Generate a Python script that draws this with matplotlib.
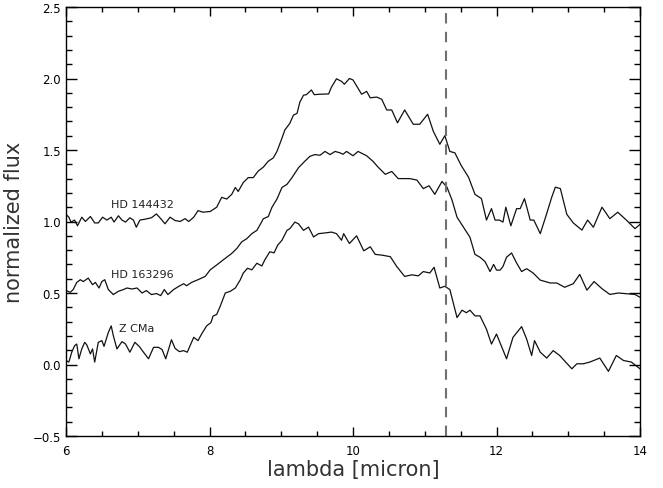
import matplotlib
matplotlib.use("Agg")
import matplotlib.pyplot as plt
from matplotlib.ticker import MultipleLocator

# HD 144432 (top)
x_top = [6.0, 6.04, 6.07, 6.12, 6.16, 6.22, 6.27, 6.34, 6.40, 6.45, 6.51, 6.57, 6.63, 6.67, 6.73, 6.78,
         6.83, 6.89, 6.94, 6.98, 7.03, 7.10, 7.19, 7.26, 7.32, 7.38, 7.45, 7.52, 7.59, 7.66, 7.71, 7.78,
         7.84, 7.91, 8.01, 8.10, 8.17, 8.24, 8.31, 8.36, 8.40, 8.47, 8.54, 8.61, 8.68, 8.75, 8.82, 8.89,
         8.94, 9.01, 9.05, 9.12, 9.17, 9.22, 9.26, 9.31, 9.35, 9.42, 9.46, 9.54, 9.66, 9.70, 9.77, 9.84,
         9.88, 9.95, 10.0, 10.12, 10.19, 10.24, 10.33, 10.40, 10.47, 10.54, 10.62, 10.72, 10.84, 10.93,
         11.04, 11.12, 11.21, 11.28, 11.35, 11.42, 11.51, 11.61, 11.70, 11.79, 11.86, 11.93, 11.98, 12.04,
         12.09, 12.13, 12.20, 12.28, 12.33, 12.39, 12.47, 12.52, 12.61, 12.69, 12.77, 12.82, 12.89, 12.98,
         13.07, 13.19, 13.27, 13.35, 13.47, 13.58, 13.69, 13.81, 13.93, 14.0]
y_top = [1.05, 1.03, 0.996, 1.01, 0.97, 1.03, 1.0, 1.035, 0.99, 0.99, 1.03, 1.01, 1.03, 0.996, 1.04, 1.01,
         0.996, 1.026, 1.01, 0.96, 1.01, 1.016, 1.026, 1.053, 1.02, 0.984, 1.03, 1.007, 1.0, 1.02, 1.0, 1.03,
         1.076, 1.065, 1.07, 1.10, 1.169, 1.157, 1.19, 1.238, 1.21, 1.272, 1.307, 1.307, 1.353, 1.38, 1.422, 1.445,
         1.49, 1.583, 1.64, 1.687, 1.744, 1.756, 1.836, 1.883, 1.887, 1.92, 1.887, 1.89, 1.892, 1.94, 1.998, 1.98,
         1.96, 2.0, 1.99, 1.89, 1.91, 1.865, 1.87, 1.855, 1.78, 1.78, 1.69, 1.78, 1.68, 1.68,
         1.75, 1.63, 1.54, 1.60, 1.49, 1.48, 1.39, 1.31, 1.19, 1.16, 1.01, 1.09, 1.01, 1.01,
         0.996, 1.10, 0.97, 1.09, 1.09, 1.16, 1.01, 1.01, 0.915, 1.04, 1.17, 1.24, 1.23, 1.05,
         0.99, 0.94, 1.01, 0.96, 1.10, 1.02, 1.065, 1.01, 0.95, 0.98]

# HD 163296 (middle)
x_mid = [6.0, 6.06, 6.10, 6.15, 6.20, 6.24, 6.31, 6.37, 6.41, 6.46, 6.50, 6.54, 6.59, 6.66, 6.73, 6.80,
         6.85, 6.92, 6.99, 7.06, 7.12, 7.19, 7.26, 7.32, 7.37, 7.42, 7.50, 7.57, 7.64, 7.68, 7.75, 7.84,
         7.94, 8.01, 8.10, 8.19, 8.31, 8.38, 8.45, 8.52, 8.59, 8.66, 8.70, 8.75, 8.82, 8.87, 8.94, 9.01,
         9.08, 9.15, 9.24, 9.33, 9.40, 9.47, 9.54, 9.61, 9.68, 9.75, 9.82, 9.86, 9.91, 10.0, 10.07, 10.19,
         10.28, 10.35, 10.45, 10.54, 10.63, 10.79, 10.89, 10.98, 11.06, 11.14, 11.24, 11.31, 11.38, 11.45,
         11.54, 11.63, 11.70, 11.77, 11.84, 11.91, 11.96, 12.0, 12.05, 12.09, 12.14, 12.21, 12.28, 12.35,
         12.42, 12.51, 12.61, 12.75, 12.84, 12.95, 13.07, 13.16, 13.26, 13.36, 13.47, 13.58, 13.70, 13.81,
         13.93, 14.0]
y_mid = [0.517, 0.505, 0.524, 0.574, 0.593, 0.58, 0.604, 0.558, 0.574, 0.535, 0.58, 0.593, 0.524, 0.489, 0.512, 0.524,
         0.535, 0.528, 0.535, 0.50, 0.517, 0.489, 0.496, 0.482, 0.524, 0.489, 0.524, 0.546, 0.565, 0.551, 0.574, 0.593,
         0.616, 0.662, 0.696, 0.731, 0.777, 0.811, 0.858, 0.88, 0.915, 0.938, 0.973, 1.019, 1.035, 1.099, 1.157, 1.238,
         1.26, 1.307, 1.376, 1.422, 1.456, 1.468, 1.463, 1.49, 1.468, 1.49, 1.48, 1.47, 1.49, 1.46, 1.49, 1.46,
         1.42, 1.38, 1.33, 1.35, 1.30, 1.30, 1.29, 1.23, 1.25, 1.19, 1.28, 1.24, 1.15, 1.03,
         0.96, 0.89, 0.77, 0.75, 0.72, 0.65, 0.70, 0.66, 0.66, 0.685, 0.75, 0.78, 0.71, 0.65,
         0.67, 0.64, 0.59, 0.57, 0.57, 0.54, 0.565, 0.63, 0.52, 0.58, 0.53, 0.49, 0.50, 0.495,
         0.49, 0.47]

# Z CMa (bottom)
x_bot = [6.0, 6.04, 6.08, 6.12, 6.15, 6.18, 6.22, 6.26, 6.29, 6.34, 6.37, 6.40, 6.45, 6.50, 6.53, 6.59,
         6.63, 6.66, 6.71, 6.78, 6.83, 6.89, 6.96, 7.02, 7.08, 7.15, 7.22, 7.29, 7.34, 7.39, 7.47, 7.52,
         7.58, 7.64, 7.69, 7.73, 7.78, 7.84, 7.89, 7.96, 8.02, 8.05, 8.10, 8.15, 8.22, 8.29, 8.36, 8.43,
         8.47, 8.53, 8.59, 8.66, 8.73, 8.77, 8.84, 8.90, 8.95, 9.01, 9.08, 9.12, 9.19, 9.24, 9.31, 9.38,
         9.45, 9.52, 9.61, 9.70, 9.77, 9.84, 9.87, 9.95, 10.05, 10.15, 10.24, 10.31, 10.40, 10.52, 10.61,
         10.72, 10.82, 10.91, 10.98, 11.07, 11.13, 11.21, 11.28, 11.35, 11.45, 11.52, 11.58, 11.63, 11.70,
         11.77, 11.86, 11.93, 12.0, 12.14, 12.23, 12.35, 12.42, 12.49, 12.53, 12.61, 12.70, 12.79, 12.88,
         13.05, 13.12, 13.21, 13.30, 13.44, 13.56, 13.67, 13.77, 13.88, 14.0]
y_bot = [0.028, 0.017, 0.086, 0.132, 0.143, 0.04, 0.109, 0.155, 0.137, 0.074, 0.109, 0.017, 0.155, 0.167, 0.127, 0.224,
         0.27, 0.201, 0.109, 0.16, 0.143, 0.086, 0.155, 0.127, 0.086, 0.04, 0.12, 0.12, 0.104, 0.04, 0.173, 0.113,
         0.09, 0.097, 0.086, 0.132, 0.19, 0.167, 0.213, 0.27, 0.293, 0.339, 0.35, 0.408, 0.50, 0.512, 0.535, 0.593,
         0.639, 0.673, 0.662, 0.708, 0.689, 0.731, 0.788, 0.781, 0.834, 0.869, 0.938, 0.95, 0.996, 0.984, 0.938, 0.961,
         0.892, 0.915, 0.92, 0.926, 0.915, 0.869, 0.915, 0.846, 0.90, 0.795, 0.823, 0.77, 0.765, 0.754, 0.685,
         0.616, 0.627, 0.62, 0.65, 0.64, 0.68, 0.535, 0.547, 0.524, 0.328, 0.38, 0.362, 0.38, 0.34,
         0.34, 0.247, 0.143, 0.213, 0.04, 0.19, 0.265, 0.178, 0.063, 0.167, 0.086, 0.045, 0.097, 0.063,
         -0.03, 0.005, 0.005, 0.017, 0.045, -0.048, 0.063, 0.028, 0.017, -0.03]

labels = ["HD 144432", "HD 163296", "Z CMa"]
label_x = [7.07, 7.07, 6.98]
label_y = [1.12, 0.63, 0.255]
feature_x = 11.3

fig = plt.figure(figsize=(6.63, 4.89), dpi=100)
ax = fig.add_axes([66/663, 1-437/489, (640-66)/663, (437-8)/489])

for xs, ys in [(x_top, y_top), (x_mid, y_mid), (x_bot, y_bot)]:
    ax.plot(xs, ys, color='#111111', lw=0.9)

ax.axvline(feature_x, color='#707070', lw=1.5, ls=(0, (5, 4)))

for t, lx, ly in zip(labels, label_x, label_y):
    ax.text(lx, ly, t, fontsize=8, ha='center', va='center', color='#222222')

ax.set_xlim(6, 14)
ax.set_ylim(-0.5, 2.5)
ax.xaxis.set_major_locator(MultipleLocator(2))
ax.xaxis.set_minor_locator(MultipleLocator(0.5))
ax.yaxis.set_major_locator(MultipleLocator(0.5))
ax.yaxis.set_minor_locator(MultipleLocator(0.1))
ax.tick_params(which='both', direction='in', top=True, right=True, labelsize=8.5, width=1)
ax.tick_params(axis='x', which='major', length=6.5, pad=6)
ax.tick_params(axis='x', which='minor', length=3.5)
ax.tick_params(axis='y', which='major', length=8)
ax.tick_params(axis='y', which='minor', length=4)
ax.set_yticks([-0.5, 0.0, 0.5, 1.0, 1.5, 2.0, 2.5])
ax.set_yticklabels(['\u22120.5', '0.0', '0.5', '1.0', '1.5', '2.0', '2.5'])
ax.set_xlabel('lambda [micron]', fontsize=15, labelpad=1, color='#333333')
ax.set_ylabel('normalized flux', fontsize=15, labelpad=6, color='#333333')
for s in ax.spines.values():
    s.set_linewidth(1.0)

fig.savefig('out.png', dpi=100)
